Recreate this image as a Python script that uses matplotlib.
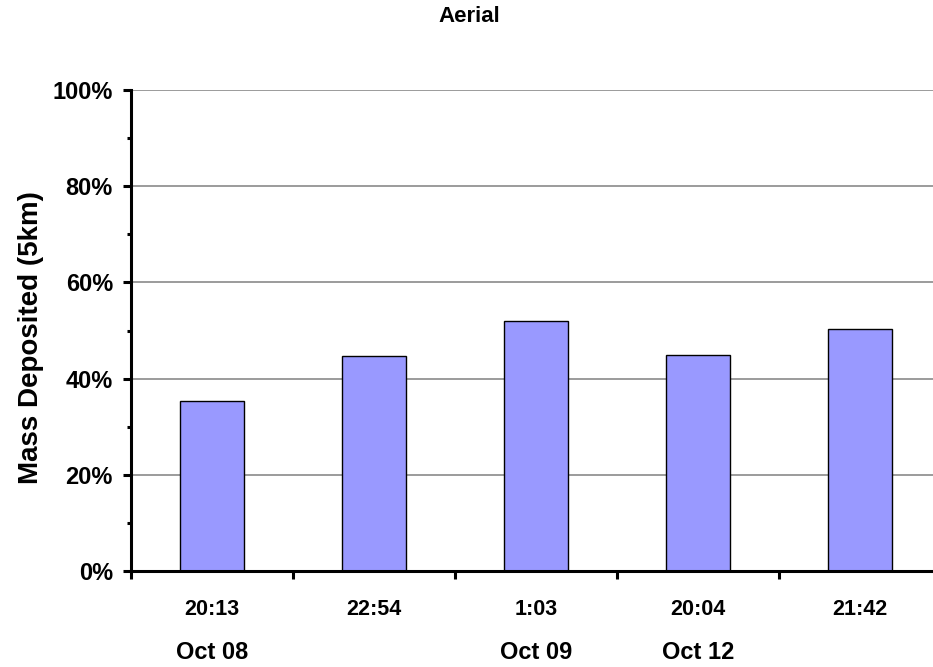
import matplotlib
matplotlib.use('Agg')
import matplotlib.pyplot as plt
from matplotlib.ticker import MultipleLocator, FixedLocator, PercentFormatter
import matplotlib.transforms as mtransforms

plt.rcParams['font.family'] = ['Liberation Sans', 'DejaVu Sans']
plt.rcParams['font.weight'] = 'bold'

# dati
orari = ['20:13', '22:54', '1:03', '20:04', '21:42']
date_lbl = ['Oct 08', '', 'Oct 09', 'Oct 12', '']
massa = [35.3, 44.8, 52.0, 45.0, 50.4]  # % depositata (5km)

fig = plt.figure(figsize=(9.33, 6.67), dpi=100)
W, H = 933, 667
ax = fig.add_axes([131 / W, 1 - 571 / H, 810 / W, 481 / H])

x = list(range(len(massa)))
ax.bar(x, massa, width=0.4, color='#9999FF', edgecolor='black', linewidth=1, zorder=3)

ax.set_xlim(-0.5, len(massa) - 0.5)
ax.set_ylim(0, 100)

# griglia
ax.yaxis.set_major_locator(MultipleLocator(20))
ax.yaxis.set_minor_locator(MultipleLocator(10))
ax.yaxis.set_major_formatter(PercentFormatter(decimals=0))
ax.grid(axis='y', which='major', color='#808080', linewidth=1.1, zorder=0)

for s in ['top', 'right']:
    ax.spines[s].set_visible(False)
ax.spines['left'].set_linewidth(2.2)
ax.spines['bottom'].set_linewidth(2.2)
ax.spines['left'].set_zorder(4)
ax.spines['bottom'].set_zorder(4)

ax.tick_params(axis='y', which='major', length=6, width=2.2, labelsize=17, pad=7)
ax.tick_params(axis='y', which='minor', length=3, width=2.2)

# tick sull'asse x ai bordi delle categorie
ax.xaxis.set_major_locator(FixedLocator([i - 0.5 for i in range(len(massa) + 1)]))
ax.xaxis.set_major_formatter(plt.NullFormatter())
ax.tick_params(axis='x', which='major', length=6, width=2.2)

for lab in ax.get_yticklabels():
    lab.set_fontweight('bold')

# etichette orario e data sotto le barre
trans = mtransforms.blended_transform_factory(ax.transData, fig.transFigure)
for xi, t, d in zip(x, orari, date_lbl):
    ax.text(xi, 1 - 615 / H, t, transform=trans, ha='center', va='baseline',
            fontsize=15.5, fontweight='bold')
    if d:
        ax.text(xi, 1 - 659 / H, d, transform=trans, ha='center', va='baseline',
                fontsize=17, fontweight='bold')

ax.set_ylabel('Mass Deposited (5km)', fontsize=20, fontweight='bold')
ax.yaxis.set_label_coords(44 / W, 1 - 338 / H, transform=fig.transFigure)
fig.text(469 / W, 1 - 17 / H, 'Aerial', ha='center', va='center', fontsize=16, fontweight='bold')

fig.savefig('out.png', dpi=100)
